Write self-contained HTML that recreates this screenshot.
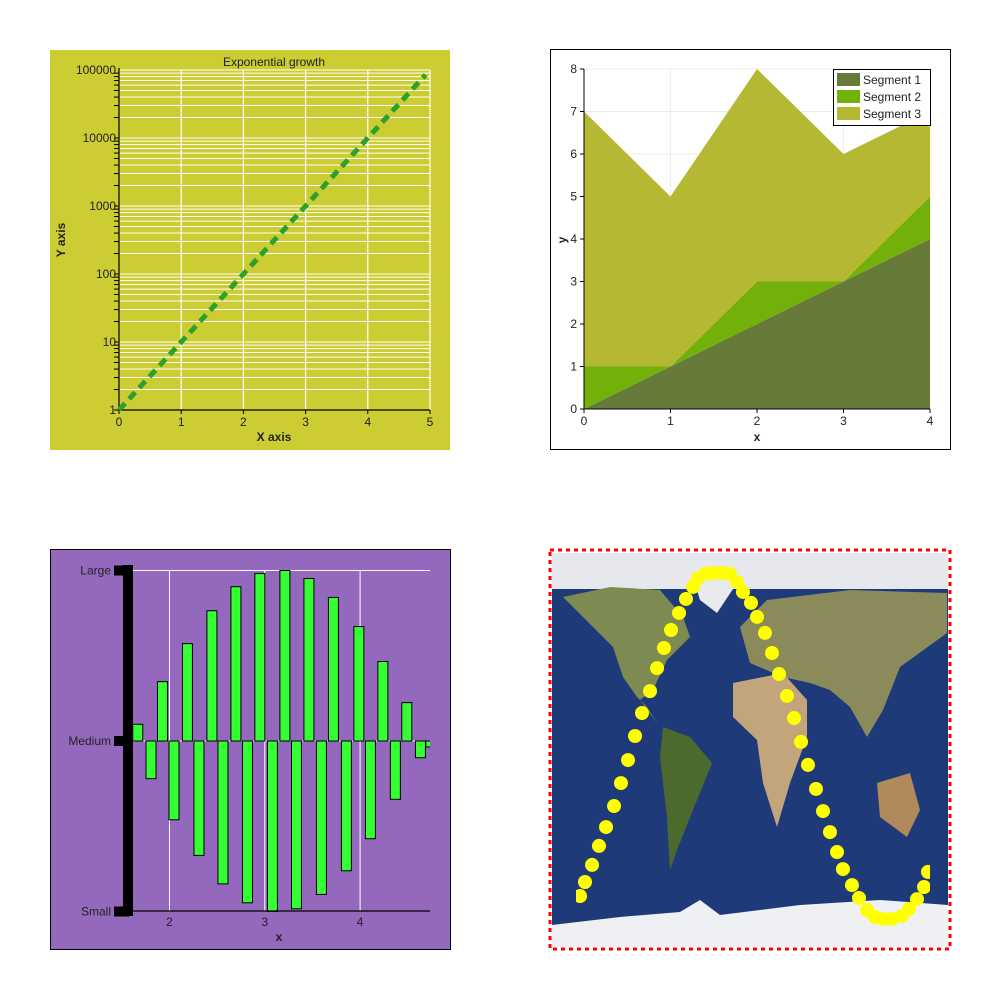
<!DOCTYPE html>
<html><head><meta charset="utf-8"><style>
html,body{margin:0;padding:0;background:#fff;}
svg{display:block;font-family:"Liberation Sans",sans-serif;}
</style></head><body>
<svg id="root" width="1000" height="1000" viewBox="0 0 1000 1000" xmlns="http://www.w3.org/2000/svg">
<g id="p1"></g>
<g id="p2"></g>
<g id="p3"></g>
<g id="p4"></g>
</svg>
<script>
// ---------- Chart 1 data ----------
const expX = [0, 1, 2, 3, 4, 4.93];
const expY = [1, 10, 100, 1000, 10000, 85000];
const expXTicks = ["0","1","2","3","4","5"];
const expYTicks = ["1","10","100","1000","10000","100000"];
// ---------- Chart 2 data ----------
const areaX = [0, 1, 2, 3, 4];
const seg1 = [0, 1, 2, 3, 4];
const seg2 = [1, 0, 1, 0, 1];
const seg3 = [6, 4, 5, 3, 2];
const areaYTicks = ["0","1","2","3","4","5","6","7","8"];
const areaXTicks = ["0","1","2","3","4"];
const segNames = ["Segment 1","Segment 2","Segment 3"];
// ---------- Chart 3 data ----------
const upX = [1.667, 1.926, 2.188, 2.445, 2.697, 2.948, 3.211, 3.463, 3.720, 3.987, 4.239, 4.490, 4.742];
const upV = [0.098, 0.348, 0.571, 0.764, 0.905, 0.982, 1.0, 0.953, 0.842, 0.671, 0.466, 0.225, -0.035];
const downX = [1.806, 2.047, 2.309, 2.561, 2.818, 3.080, 3.332, 3.594, 3.856, 4.108, 4.370, 4.633];
const downV = [-0.221, -0.462, -0.671, -0.838, -0.949, -1.0, -0.984, -0.9, -0.761, -0.573, -0.342, -0.098];
const barXTicks = [2, 3, 4];
const barYLabels = ["Small","Medium","Large"];
// ---------- Chart 4 data ----------
const trackLon = [-154.5,-150,-143.6,-137.3,-130.9,-123.6,-117.3,-110.9,-104.5,-98.2,-90.9,-84.5,-78.2,-71.8,-64.5,-58.2,-51.8,-47.3,-40.9,-33.6,-25.5,-18.2,-11.8,-6.4,0.9,6.4,13.6,20,26.4,33.6,40,46.4,52.7,60,66.4,72.7,79.1,84.5,92.7,99.1,106.4,113.6,120.9,129.1,138.2,144.5,151.8,158.2,161.8];
const trackLat = [-66.7,-60.3,-52.5,-43.8,-35.2,-25.6,-15.1,-4.6,6.4,16.9,26.9,37.4,46.6,54.8,62.6,69,74.5,78.6,80.4,80.9,80.9,80.4,76.8,72.2,67.2,60.8,53.5,44.3,34.7,24.7,14.6,3.7,-6.8,-17.8,-27.9,-37.5,-46.6,-54.4,-61.7,-67.6,-73.1,-76.3,-77.2,-77.2,-75.8,-72.6,-68.1,-62.6,-55.7];

const NS="http://www.w3.org/2000/svg";
function mk(parent, tag, attrs, text){const e=document.createElementNS(NS,tag);for(const k in attrs)e.setAttribute(k,attrs[k]);if(text!==undefined)e.textContent=text;parent.appendChild(e);return e;}

// ===== Chart 1 =====
(function(){
const g=document.getElementById('p1');
const bg=mk(g,'rect',{x:50,y:50,width:400,height:400,fill:'#cccc33'});


const L=119,R=430,T=70,B=410;
const sx=v=>L+(v-0)/(5-0)*(R-L);
const sy=v=>B-(Math.log10(v)-0)/5*(B-T);
for(let k=0;k<5;k++)for(let m=1;m<=9;m++){
  const y=sy(m*Math.pow(10,k));
  const gl=mk(g,'line',{x1:L,x2:R,y1:y,y2:y,stroke:'#fff','stroke-width':1});
  
  
  mk(g,'line',{x1:L-5,x2:L,y1:y,y2:y,stroke:'#000','stroke-width':1});
}
mk(g,'line',{x1:L,x2:R,y1:T,y2:T,stroke:'#fff'});
for(let i=1;i<=5;i++){const x=sx(i);
  const gl=mk(g,'line',{x1:x,x2:x,y1:T,y2:B,stroke:'#fff','stroke-width':1.2});
  
  }
mk(g,'line',{x1:L,x2:L,y1:T-2,y2:B,stroke:'#000','stroke-width':1.2});
mk(g,'line',{x1:L,x2:R,y1:B,y2:B,stroke:'#000','stroke-width':1.2});
expXTicks.forEach((t,i)=>{const x=sx(+t);
  mk(g,'line',{x1:x,x2:x,y1:B,y2:B+4,stroke:'#000'});
  const tx=mk(g,'text',{x:x,y:B+16,'text-anchor':'middle','font-size':12,fill:'#222'},t);
  
  });
expYTicks.forEach(t=>{const y=sy(+t);
  const tx=mk(g,'text',{x:L-3,y:y+4,'text-anchor':'end','font-size':12,fill:'#222'},t);
  
  });
const pts=expX.map((x,i)=>sx(x)+','+sy(expY[i])).join(' ');
const ln=mk(g,'polyline',{points:pts,fill:'none',stroke:'#2ca02c','stroke-width':5,'stroke-dasharray':'9,6'});


const ti=mk(g,'text',{x:274,y:66,'text-anchor':'middle','font-size':12,fill:'#222'},'Exponential growth');


const xt=mk(g,'text',{x:274,y:441,'text-anchor':'middle','font-size':12,'font-weight':'bold',fill:'#222'},'X axis');


const yt=mk(g,'text',{x:0,y:0,transform:'translate(65,240) rotate(-90)','text-anchor':'middle','font-size':12,'font-weight':'bold',fill:'#222'},'Y axis');


})();

// ===== Chart 2 =====
(function(){
const g=document.getElementById('p2');
const bg=mk(g,'rect',{x:550.5,y:49.5,width:400,height:400,fill:'#fff',stroke:'#000'});


const L=584,R=930,T=69,B=409;
const sx=v=>L+v/4*(R-L);
const sy=v=>B-v/8*(B-T);
areaYTicks.forEach(t=>{const y=sy(+t);mk(g,'line',{x1:L,x2:R,y1:y,y2:y,stroke:'#ececec'});});
areaXTicks.forEach(t=>{const x=sx(+t);mk(g,'line',{x1:x,x2:x,y1:T,y2:B,stroke:'#ececec'});});
const colors=['#667a3a','#73b00a','#b5b833'];
let base=areaX.map(()=>0);
[seg1,seg2,seg3].forEach((s,k)=>{
  const top=base.map((b,i)=>b+s[i]);
  const up=areaX.map((x,i)=>sx(x)+','+sy(top[i]));
  const dn=areaX.map((x,i)=>sx(x)+','+sy(base[i])).reverse();
  const p=mk(g,'polygon',{points:up.concat(dn).join(' '),fill:colors[k]});
  
  
  base=top;
});
mk(g,'line',{x1:L,x2:R,y1:B,y2:B,stroke:'#000'});
mk(g,'line',{x1:L,x2:L,y1:T,y2:B,stroke:'#000'});
areaXTicks.forEach(t=>{const x=sx(+t);
  mk(g,'line',{x1:x,x2:x,y1:B,y2:B+4,stroke:'#000'});
  const tx=mk(g,'text',{x:x,y:B+16,'text-anchor':'middle','font-size':12,fill:'#222'},t);
  
  });
areaYTicks.forEach(t=>{const y=sy(+t);
  mk(g,'line',{x1:L-4,x2:L,y1:y,y2:y,stroke:'#000'});
  const tx=mk(g,'text',{x:L-7,y:y+4,'text-anchor':'end','font-size':12,fill:'#222'},t);
  
  });
const xt=mk(g,'text',{x:757,y:441,'text-anchor':'middle','font-size':12,'font-weight':'bold',fill:'#222'},'x');


const yt=mk(g,'text',{x:0,y:0,transform:'translate(566,240) rotate(-90)','text-anchor':'middle','font-size':12,'font-weight':'bold',fill:'#222'},'y');


const lg=mk(g,'g',{});


mk(lg,'rect',{x:833.5,y:69.5,width:97,height:56,fill:'#fff',stroke:'#000'});
segNames.forEach((n,k)=>{
  const e=mk(lg,'g',{});
  
  
  mk(e,'rect',{x:837,y:73+k*17,width:23,height:13,fill:colors[k]});
  mk(e,'text',{x:863,y:84+k*17,'font-size':12,fill:'#222'},n);
});
})();

// ===== Chart 3 =====
(function(){
const g=document.getElementById('p3');
const bg=mk(g,'rect',{x:50.5,y:549.5,width:400,height:400,fill:'#9469bd',stroke:'#000'});


const L=133,R=430,T=570,B=911;
const sx=v=>169.5+(v-2)*95.3;
const sy=v=>741-v*(B-T)/2;
mk(g,'line',{x1:L,x2:R,y1:sy(1),y2:sy(1),stroke:'#fff'});
mk(g,'line',{x1:L,x2:R,y1:sy(0),y2:sy(0),stroke:'#fff'});
barXTicks.forEach(t=>{const x=sx(t);
  const gl=mk(g,'line',{x1:x,x2:x,y1:T,y2:B,stroke:'#fff'});
  
  });
mk(g,'defs',{}).innerHTML='<clipPath id="c3"><rect x="133" y="560" width="297" height="360"/></clipPath>';
const bars=mk(g,'g',{'clip-path':'url(#c3)'});
function bar(x,v){const y0=sy(0),y1=sy(v);
  const r=mk(bars,'rect',{x:sx(x)-5,y:Math.min(y0,y1),width:10,height:Math.abs(y1-y0),fill:'#33ff33',stroke:'#000','stroke-width':1});
  
  }
upX.forEach((x,i)=>bar(x,upV[i]));
downX.forEach((x,i)=>bar(x,downV[i]));
mk(g,'line',{x1:L,x2:R,y1:B,y2:B,stroke:'#000','stroke-width':1.2});
mk(g,'rect',{x:123,y:565,width:10,height:351,fill:'#000'});
barYLabels.forEach((t,i)=>{const y=sy(i-1);
  mk(g,'rect',{x:114,y:y-5,width:15,height:10,fill:'#000'});
  const tx=mk(g,'text',{x:111,y:y+4,'text-anchor':'end','font-size':12,fill:'#222'},t);
  
  });
barXTicks.forEach(t=>{const x=sx(t);
  const tx=mk(g,'text',{x:x,y:926,'text-anchor':'middle','font-size':12,fill:'#222'},String(t));
  
  });
const xt=mk(g,'text',{x:279,y:941,'text-anchor':'middle','font-size':12,'font-weight':'bold',fill:'#222'},'x');


})();

// ===== Chart 4 =====
(function(){
const g=document.getElementById('p4');
const fr=mk(g,'rect',{x:550,y:550,width:400,height:399,fill:'#fff',stroke:'#ff0000','stroke-width':3,'stroke-dasharray':'4,4'});


const map=mk(g,'g',{});


mk(map,'rect',{x:552,y:553,width:396,height:394,fill:'#1f3a78'});
mk(map,'rect',{x:552,y:553,width:396,height:36,fill:'#e6e8ee'});
const land='#7d8a52';
const polys=[
 ['563,597 610,587 660,590 683,617 690,637 667,660 653,690 640,700 657,723 647,707 637,697 623,677 613,647 583,617','north-america',land],
 ['693,577 730,570 737,583 717,613 700,600','greenland','#e8eaee'],
 ['663,727 690,737 712,763 693,810 677,850 670,870 667,817 660,757','south-america','#4d6a2e'],
 ['740,627 767,600 850,590 947,593 947,633 900,667 883,710 867,737 850,707 830,690 810,683 783,677 750,663','eurasia','#8a8a5a'],
 ['733,683 783,673 807,700 807,737 790,783 777,827 763,783 757,740 733,717','africa','#c2a57a'],
 ['877,783 910,773 920,810 907,837 880,817','australia','#b08a5a'],
 ['552,925 620,917 680,912 700,900 720,915 800,905 880,900 948,905 948,947 552,947','antarctica','#eef0f3']
];
polys.forEach(p=>{const e=mk(map,'polygon',{points:p[0],fill:p[2]});
  
  });
mk(g,'defs',{}).innerHTML='<clipPath id="c4"><rect x="576" y="553" width="354" height="394"/></clipPath>';
const dots=mk(g,'g',{'clip-path':'url(#c4)'});
const sx=lon=>552+(lon+180)*1.1;
const sy=lat=>553+(90-lat)*2.189;
trackLon.forEach((lon,i)=>{
  const c=mk(dots,'circle',{cx:sx(lon),cy:sy(trackLat[i]),r:7,fill:'#ffff00'});
  
  
});
})();
</script>
</body></html>
